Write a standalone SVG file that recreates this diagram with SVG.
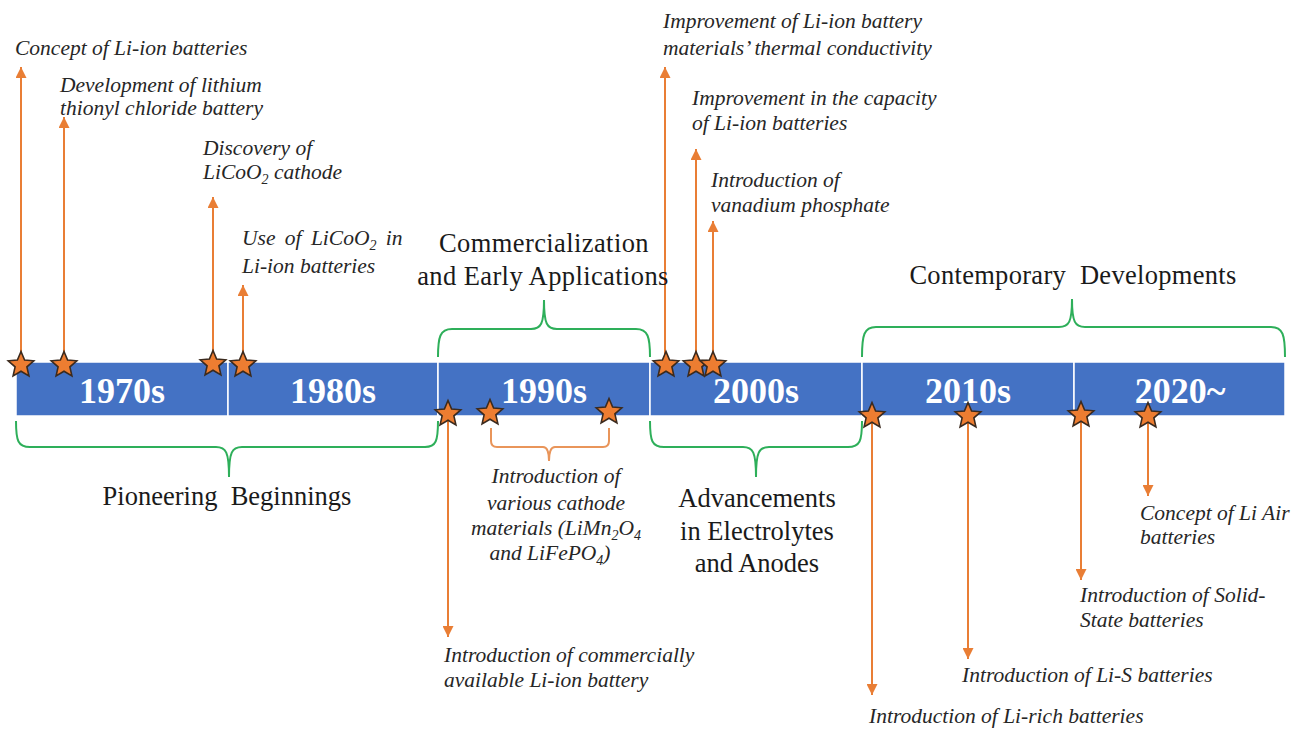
<svg xmlns="http://www.w3.org/2000/svg" xmlns:xlink="http://www.w3.org/1999/xlink" width="1293" height="729" viewBox="0 0 1293 729">
<style>
.seg{fill:#4472C4;stroke:#ffffff;stroke-width:1.5}
.dec{font-family:'Liberation Serif','Times New Roman',serif;font-weight:bold;font-size:36px;fill:#ffffff;text-anchor:middle}
.lab{font-family:'Liberation Serif','Times New Roman',serif;font-style:italic;font-size:21.5px;fill:#262626}
.big{font-family:'Liberation Serif','Times New Roman',serif;font-size:26.5px;fill:#1a1a1a;text-anchor:middle}
.arr{stroke:#E97E35;stroke-width:2;fill:none;marker-end:url(#ah)}
.obr{stroke:#E9955A;stroke-width:2;fill:none}
.gbr{stroke:#2EAF5A;stroke-width:2;fill:none}
.star{fill:#ED7D31;stroke:#3b2a1e;stroke-width:1.6;stroke-linejoin:miter}
</style>
<defs>
<marker id="ah" viewBox="0 0 10 10" refX="10" refY="5" markerWidth="13" markerHeight="11" markerUnits="userSpaceOnUse" orient="auto">
<path d="M0,0 L10,5 L0,10 z" fill="#E97E35"/>
</marker>
<path id="star" class="star" d="M0,-13.5 L3.6,-5 L12.8,-4.2 L5.9,1.9 L7.9,10.9 L0,6.2 L-7.9,10.9 L-5.9,1.9 L-12.8,-4.2 L-3.6,-5 Z"/>
</defs>
<rect width="1293" height="729" fill="#ffffff"/>

<g id="timeline">
<g id="seg1970"><rect class="seg" x="16" y="362" width="212" height="54"/><text class="dec" x="122" y="403">1970s</text></g>
<g id="seg1980"><rect class="seg" x="228" y="362" width="210" height="54"/><text class="dec" x="333" y="403">1980s</text></g>
<g id="seg1990"><rect class="seg" x="438" y="362" width="212" height="54"/><text class="dec" x="544" y="403">1990s</text></g>
<g id="seg2000"><rect class="seg" x="650" y="362" width="212" height="54"/><text class="dec" x="756" y="403">2000s</text></g>
<g id="seg2010"><rect class="seg" x="862" y="362" width="212" height="54"/><text class="dec" x="968" y="403">2010s</text></g>
<g id="seg2020"><rect class="seg" x="1074" y="362" width="211" height="54"/><text class="dec" x="1180" y="403">2020~</text></g>
</g>

<g id="connectors">
<line class="arr" x1="21" y1="362" x2="21" y2="67"/>
<line class="arr" x1="64" y1="362" x2="64" y2="117"/>
<line class="arr" x1="213" y1="362" x2="213" y2="197"/>
<line class="arr" x1="243" y1="362" x2="243" y2="285"/>
<line class="arr" x1="665" y1="362" x2="665" y2="67"/>
<line class="arr" x1="696" y1="362" x2="696" y2="149"/>
<line class="arr" x1="713" y1="362" x2="713" y2="221"/>
<line class="arr" x1="448" y1="414" x2="448" y2="637"/>
<line class="arr" x1="872" y1="414" x2="872" y2="695"/>
<line class="arr" x1="968" y1="414" x2="968" y2="659"/>
<line class="arr" x1="1081" y1="414" x2="1081" y2="580"/>
<line class="arr" x1="1148" y1="414" x2="1148" y2="496"/>
<path class="obr" d="M491,428 L491,441 Q491,447 497,447 L543,447 Q549,447 549,461 Q549,447 555,447 L603,447 Q609,447 609,441 L609,428"/>
<path class="gbr" d="M16,421 C16,441 18,447 30,447 L216,447 C226,447 229,452 229,477 C229,452 232,447 242,447 L425,447 C436,447 438,441 438,421"/>
<path class="gbr" d="M650,421 C650,441 652,447 664,447 L743,447 C753,447 756,452 756,477 C756,452 759,447 769,447 L848,447 C860,447 862,441 862,421"/>
<path class="gbr" d="M438,357 C438,337 440,329 452,329 L531,329 C541,329 544,324 544,300 C544,324 547,329 557,329 L636,329 C648,329 650,337 650,357"/>
<path class="gbr" d="M862,357 C862,335 864,327 876,327 L1059,327 C1069,327 1072,322 1072,299 C1072,322 1075,327 1085,327 L1271,327 C1283,327 1285,335 1285,357"/>
</g>

<g id="stars">
<use href="#star" x="21" y="365"/>
<use href="#star" x="64" y="365"/>
<use href="#star" x="213" y="364"/>
<use href="#star" x="243" y="365"/>
<use href="#star" x="666" y="365"/>
<use href="#star" x="696" y="365"/>
<use href="#star" x="713" y="365"/>
<use href="#star" x="448" y="414"/>
<use href="#star" x="490" y="413"/>
<use href="#star" x="609" y="412"/>
<use href="#star" x="872" y="416"/>
<use href="#star" x="968" y="416"/>
<use href="#star" x="1081" y="415"/>
<use href="#star" x="1148" y="416"/>
</g>

<g id="ev-concept"><text class="lab" x="15" y="55">Concept of Li-ion batteries</text></g>
<g id="ev-thionyl"><text class="lab" x="60" y="92">Development of lithium</text><text class="lab" x="60" y="115">thionyl chloride battery</text></g>
<g id="ev-licoo2"><text class="lab" x="203" y="155">Discovery of</text><text class="lab" x="203" y="179">LiCoO<tspan font-size="14" dy="5">2</tspan><tspan dy="-5"> cathode</tspan></text></g>
<g id="ev-use"><text class="lab" x="242" y="245" word-spacing="4">Use of LiCoO<tspan font-size="14" dy="5">2</tspan><tspan dy="-5"> in</tspan></text><text class="lab" x="242" y="273">Li-ion batteries</text></g>
<g id="ev-commercial"><text class="lab" x="444" y="662">Introduction of commercially</text><text class="lab" x="444" y="687">available Li-ion battery</text></g>
<g id="ev-cathodes"><text class="lab" x="556" y="483" text-anchor="middle">Introduction of</text><text class="lab" x="556" y="510" text-anchor="middle">various cathode</text><text class="lab" x="556" y="535" text-anchor="middle">materials (LiMn<tspan font-size="14" dy="5">2</tspan><tspan dy="-5">O</tspan><tspan font-size="14" dy="5">4</tspan></text><text class="lab" x="550" y="560" text-anchor="middle">and LiFePO<tspan font-size="14" dy="5">4</tspan><tspan dy="-5">)</tspan></text></g>
<g id="ev-thermal"><text class="lab" x="663" y="28">Improvement of Li-ion battery</text><text class="lab" x="663" y="55">materials’ thermal conductivity</text></g>
<g id="ev-capacity"><text class="lab" x="692" y="105">Improvement in the capacity</text><text class="lab" x="692" y="130">of Li-ion batteries</text></g>
<g id="ev-vanadium"><text class="lab" x="711" y="187">Introduction of</text><text class="lab" x="711" y="212">vanadium phosphate</text></g>
<g id="ev-lirich"><text class="lab" x="869" y="723">Introduction of Li-rich batteries</text></g>
<g id="ev-lis"><text class="lab" x="962" y="682">Introduction of Li-S batteries</text></g>
<g id="ev-solid"><text class="lab" x="1080" y="602">Introduction of Solid-</text><text class="lab" x="1080" y="627">State batteries</text></g>
<g id="ev-liair"><text class="lab" x="1140" y="520">Concept of Li Air</text><text class="lab" x="1140" y="544">batteries</text></g>

<g id="era-pioneering"><text class="big" x="227" y="505" xml:space="preserve">Pioneering  Beginnings</text></g>
<g id="era-commercial"><text class="big" x="544" y="252" letter-spacing="0.4">Commercialization</text><text class="big" x="543" y="285" letter-spacing="0.4">and Early Applications</text></g>
<g id="era-advancements"><text class="big" x="757" y="507">Advancements</text><text class="big" x="757" y="540">in Electrolytes</text><text class="big" x="757" y="572">and Anodes</text></g>
<g id="era-contemporary"><text class="big" x="1073" y="284" xml:space="preserve" letter-spacing="0.3">Contemporary  Developments</text></g>
</svg>
